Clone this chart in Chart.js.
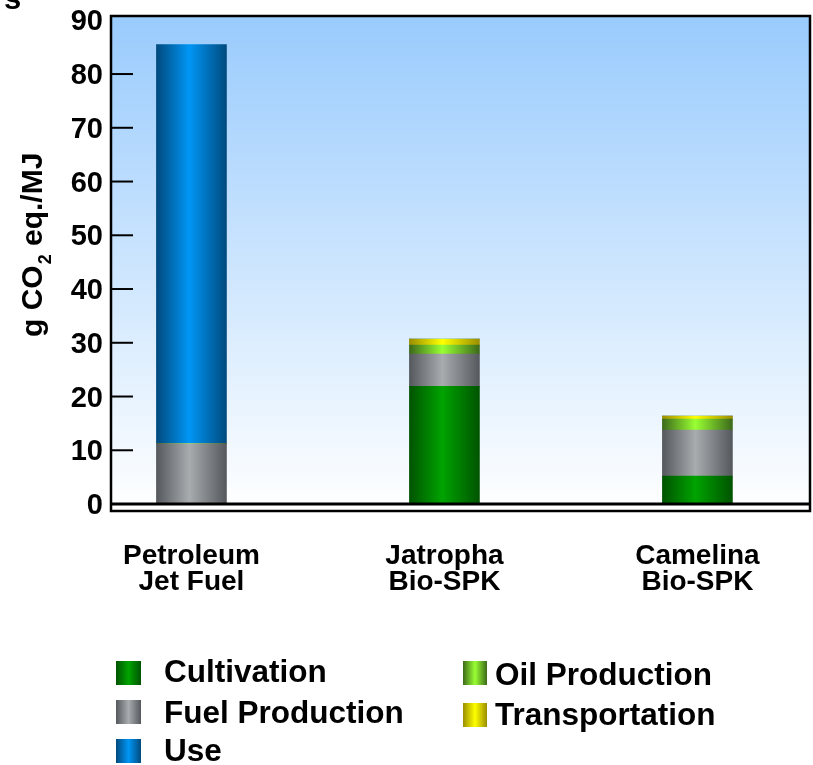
<!DOCTYPE html>
<html>
<head>
<meta charset="utf-8">
<script src="https://cdn.jsdelivr.net/npm/chart.js@4.4.1/dist/chart.umd.min.js"></script>
<style>
    html, body { margin: 0; padding: 0; background: #fff; }
    #wrap { width: 813px; height: 765px; }
</style>
</head>
<body>
<div id="wrap"><canvas id="chart" width="813" height="765"></canvas></div>
<script>
// ---------------- DATA -----------------
const categories = [
    ["Petroleum", "Jet Fuel"],
    ["Jatropha", "Bio-SPK"],
    ["Camelina", "Bio-SPK"],
];
const cultivation = [0, 21.9, 5.2];
const fuelProduction = [11.2, 6.0, 8.55];
const oilProduction = [0, 1.65, 2.05];
const transportation = [0, 1.15, 0.55];
const use = [74.3, 0, 0];
const yTicks = [0, 10, 20, 30, 40, 50, 60, 70, 80, 90];

const FONT = '"Liberation Sans", Arial, Helvetica, sans-serif';
const barWidth = 70;

// edge / highlight colours for the cylinder shading
const series = [
    { label: "Cultivation", data: cultivation, edge: "#005400", mid: "#00a300" },
    { label: "Fuel Production", data: fuelProduction, edge: "#55595d", mid: "#a8acaf" },
    { label: "Oil Production", data: oilProduction, edge: "#3c6a1a", mid: "#99ff33" },
    { label: "Transportation", data: transportation, edge: "#9a8e00", mid: "#ffff00" },
    { label: "Use", data: use, edge: "#004a7e", mid: "#0096f5" },
];

// ----------- HELPERS -------------
const cylinder = (edge, mid) => (ctx) => {
    const chart = ctx.chart;
    const xs = chart.scales.x;
    if (!chart.chartArea || !xs || ctx.type !== "data") return mid;
    const cx = xs.getPixelForValue(ctx.parsed.x);
    const g = chart.ctx.createLinearGradient(cx - barWidth / 2, 0, cx + barWidth / 2, 0);
    g.addColorStop(0, edge);
    g.addColorStop(0.47, mid);
    g.addColorStop(1, edge);
    return g;
};

const noPadding = (s) => {
    s.paddingTop = 0;
    s.paddingBottom = 0;
    s.paddingLeft = 0;
    s.paddingRight = 0;
};

const backgroundPlugin = {
    id: "plotBackground",
    beforeDraw(chart) {
        const { ctx, chartArea: a } = chart;
        const g = ctx.createLinearGradient(0, a.top, 0, a.bottom);
        g.addColorStop(0, "#99cbfd");
        g.addColorStop(1, "#ffffff");
        ctx.save();
        ctx.fillStyle = g;
        ctx.fillRect(a.left, a.top, a.right - a.left, a.bottom - a.top);
        ctx.restore();
    },
};

const framePlugin = {
    id: "frame",
    afterDatasetsDraw(chart) {
        const { ctx, chartArea: a, scales } = chart;
        const y0 = scales.y.getPixelForValue(0);
        ctx.save();
        ctx.strokeStyle = "#000";
        // zero line
        ctx.lineWidth = 3;
        ctx.beginPath();
        ctx.moveTo(a.left, y0);
        ctx.lineTo(a.right, y0);
        ctx.stroke();
        // inner tick marks (none at the ends)
        ctx.lineWidth = 2;
        const ticks = scales.y.ticks;
        ticks.forEach((t, i) => {
            if (i === 0 || i === ticks.length - 1) return;
            const y = scales.y.getPixelForValue(t.value);
            ctx.beginPath();
            ctx.moveTo(a.left, y);
            ctx.lineTo(a.left + 22, y);
            ctx.stroke();
        });
        // box
        ctx.lineWidth = 2.5;
        ctx.strokeRect(a.left, a.top, a.right - a.left, a.bottom - a.top);
        ctx.restore();
    },
};

const legendSlots = {
    "Cultivation": { box: [116, 661, 25, 24], text: [164, 682] },
    "Fuel Production": { box: [116, 700, 25, 24], text: [164, 723] },
    "Use": { box: [116, 739, 25, 24], text: [164, 761] },
    "Oil Production": { box: [463, 661, 24, 24], text: [495, 685] },
    "Transportation": { box: [463, 703, 24, 24], text: [495, 725] },
};

const annotationPlugin = {
    id: "annotations",
    afterDraw(chart) {
        const ctx = chart.ctx;
        ctx.save();
        ctx.fillStyle = "#000";
        ctx.textBaseline = "alphabetic";

        // clipped title remnant
        ctx.font = `bold 31px ${FONT}`;
        ctx.fillText("s", 4, 9);

        // y axis title with subscript
        ctx.save();
        ctx.translate(42, 337);
        ctx.rotate(-Math.PI / 2);
        ctx.font = `bold 30px ${FONT}`;
        let x = 0;
        ctx.fillText("g CO", x, 0);
        x += ctx.measureText("g CO").width;
        ctx.font = `bold 18px ${FONT}`;
        ctx.fillText("2", x + 1, 9);
        x += ctx.measureText("2").width + 1;
        ctx.font = `bold 30px ${FONT}`;
        ctx.fillText(" eq./MJ", x, 0);
        ctx.restore();

        // legend
        chart.data.datasets.forEach((ds, i) => {
            const slot = legendSlots[ds.label];
            if (!slot) return;
            const [bx, by, bw, bh] = slot.box;
            const s = series[i];
            const g = ctx.createLinearGradient(bx, 0, bx + bw, 0);
            g.addColorStop(0, s.edge);
            g.addColorStop(0.5, s.mid);
            g.addColorStop(1, s.edge);
            ctx.fillStyle = g;
            ctx.fillRect(bx, by, bw, bh);
            ctx.fillStyle = "#000";
            ctx.font = `bold 31.5px ${FONT}`;
            ctx.fillText(ds.label, slot.text[0], slot.text[1]);
        });
        ctx.restore();
    },
};

// -------------- CHART --------------
new Chart(document.getElementById("chart"), {
    type: "bar",
    data: {
        datasets: series.map((s) => ({
            label: s.label,
            data: s.data.map((v, i) => ({ x: i, y: v })),
            backgroundColor: cylinder(s.edge, s.mid),
            borderWidth: 0,
            barThickness: barWidth,
            grouped: false,
        })),
    },
    options: {
        responsive: false,
        animation: false,
        devicePixelRatio: 1,
        layout: { padding: { top: 16, right: 3, left: 0, bottom: 0 } },
        plugins: {
            legend: { display: false },
            tooltip: { enabled: false },
        },
        scales: {
            x: {
                type: "linear",
                min: -0.318,
                max: 2.445,
                offset: false,
                stacked: true,
                grid: { display: false, drawTicks: false },
                border: { display: false },
                afterBuildTicks: (s) => {
                    s.ticks = categories.map((c, i) => ({ value: i }));
                },
                afterFit: (s) => {
                    s.height = 254;
                    noPadding(s);
                },
                ticks: {
                    autoSkip: false,
                    maxRotation: 0,
                    padding: 33,
                    color: "#000",
                    font: { family: FONT, weight: "bold", size: 28, lineHeight: 0.9 },
                    callback: (v) => categories[v],
                },
            },
            y: {
                min: -1.3,
                max: 90.8,
                stacked: true,
                grid: { display: false, drawTicks: false },
                border: { display: false },
                afterBuildTicks: (s) => {
                    s.ticks = yTicks.map((v) => ({ value: v }));
                },
                afterFit: (s) => {
                    s.width = 111;
                    noPadding(s);
                },
                ticks: {
                    padding: 8,
                    labelOffset: 2,
                    color: "#000",
                    font: { family: FONT, weight: "bold", size: 29 },
                },
            },
        },
    },
    plugins: [backgroundPlugin, framePlugin, annotationPlugin],
});
</script>
</body>
</html>
